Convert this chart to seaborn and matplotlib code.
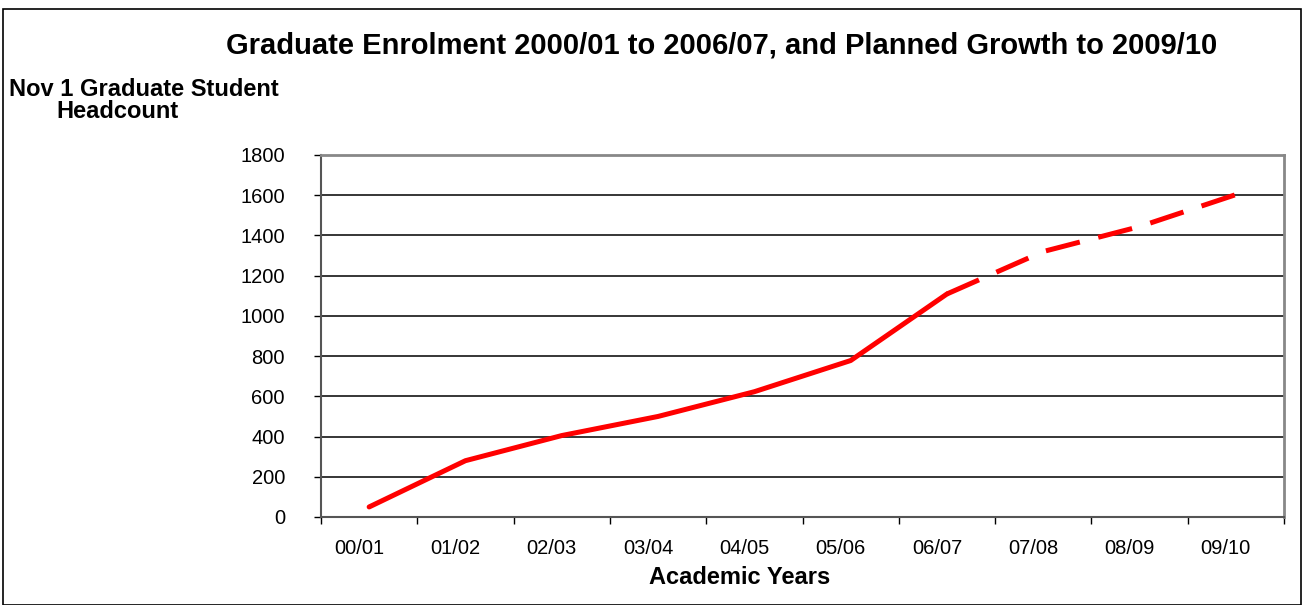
import matplotlib
matplotlib.use('Agg')
import matplotlib.pyplot as plt
import matplotlib.transforms as mtransforms
import seaborn as sns
import pandas as pd
from matplotlib.patches import Rectangle
from matplotlib.ticker import FixedLocator

# Data
actual_years = ['00/01', '01/02', '02/03', '03/04', '04/05', '05/06', '06/07']
actual_headcount = [50, 280, 405, 500, 623, 778, 1109]
planned_years = ['06/07', '07/08', '08/09', '09/10']
planned_headcount = [1109, 1320, 1444, 1603]
y_ticks = [0, 200, 400, 600, 800, 1000, 1200, 1400, 1600, 1800]

sns.set_style('white')
plt.rcParams['font.family'] = ['Liberation Sans', 'DejaVu Sans']
plt.rcParams['text.color'] = 'black'
plt.rcParams['xtick.color'] = 'black'
plt.rcParams['ytick.color'] = 'black'
plt.rcParams['axes.labelcolor'] = 'black'

actual = pd.DataFrame({'year': actual_years, 'headcount': actual_headcount})
planned = pd.DataFrame({'year': planned_years, 'headcount': planned_headcount})

W, H = 1304, 605
fig = plt.figure(figsize=(W / 100, H / 100), dpi=100)
ax = fig.add_axes([321 / W, 1 - 517 / H, (1284 - 321) / W, (517 - 155) / H])

# horizontal grid lines first so the series sits on top
for v in y_ticks[1:-1]:
    ax.axhline(v, color='black', lw=1.1, zorder=1)

sns.lineplot(data=actual, x='year', y='headcount', ax=ax, color='#ff0000',
             lw=3.6, sort=False, zorder=3)
sns.lineplot(data=planned, x='year', y='headcount', ax=ax, color='#ff0000',
             lw=3.6, sort=False, zorder=3)
ax.lines[-1].set_dashes((7, 3.8))

n = len(actual_years) + len(planned_years) - 1
ax.set_xlim(-0.5, n - 0.5)
ax.set_ylim(0, 1800)
ax.set_yticks(y_ticks)
ax.xaxis.set_minor_locator(FixedLocator([i - 0.5 for i in range(n + 1)]))
ax.tick_params(axis='x', which='major', length=0, pad=16, labelsize=14.5)
ax.tick_params(axis='x', which='minor', length=5, width=1, direction='out')
ax.tick_params(axis='y', which='major', length=5, width=1,
               direction='out', pad=21, labelsize=14.5)
ax.tick_params(bottom=True, left=True, which='both')

# labels sit a little left of the category centres in the reference
shift = mtransforms.ScaledTranslation(-10 / 100, 0, fig.dpi_scale_trans)
for lbl in ax.get_xticklabels():
    lbl.set_transform(lbl.get_transform() + shift)

for side in ['top', 'right']:
    ax.spines[side].set_color('#888888')
    ax.spines[side].set_linewidth(2)
ax.spines['left'].set_color('#555555')
ax.spines['left'].set_linewidth(1.5)
ax.spines['bottom'].set_color('#555555')
ax.spines['bottom'].set_linewidth(1.5)

ax.set_xlabel('')
ax.set_ylabel('')

fig.text(722 / W, 1 - 45 / H, 'Graduate Enrolment 2000/01 to 2006/07, and Planned Growth to 2009/10',
         ha='center', va='center', fontsize=21, fontweight='bold')
fig.text(144 / W, 1 - 89 / H, 'Nov 1 Graduate Student',
         ha='center', va='center', fontsize=17, fontweight='bold')
fig.text(117 / W, 1 - 112 / H, 'Headcount',
         ha='center', va='center', fontsize=17, fontweight='bold')
fig.text(740 / W, 1 - 578 / H, 'Academic Years',
         ha='center', va='center', fontsize=17, fontweight='bold')

# outer chart frame
fig.patches.append(Rectangle((3 / W, 0), 1298 / W, 1 - 9 / H, transform=fig.transFigure,
                             fill=False, edgecolor='black', lw=1.2))

fig.savefig('out.png', dpi=100)
